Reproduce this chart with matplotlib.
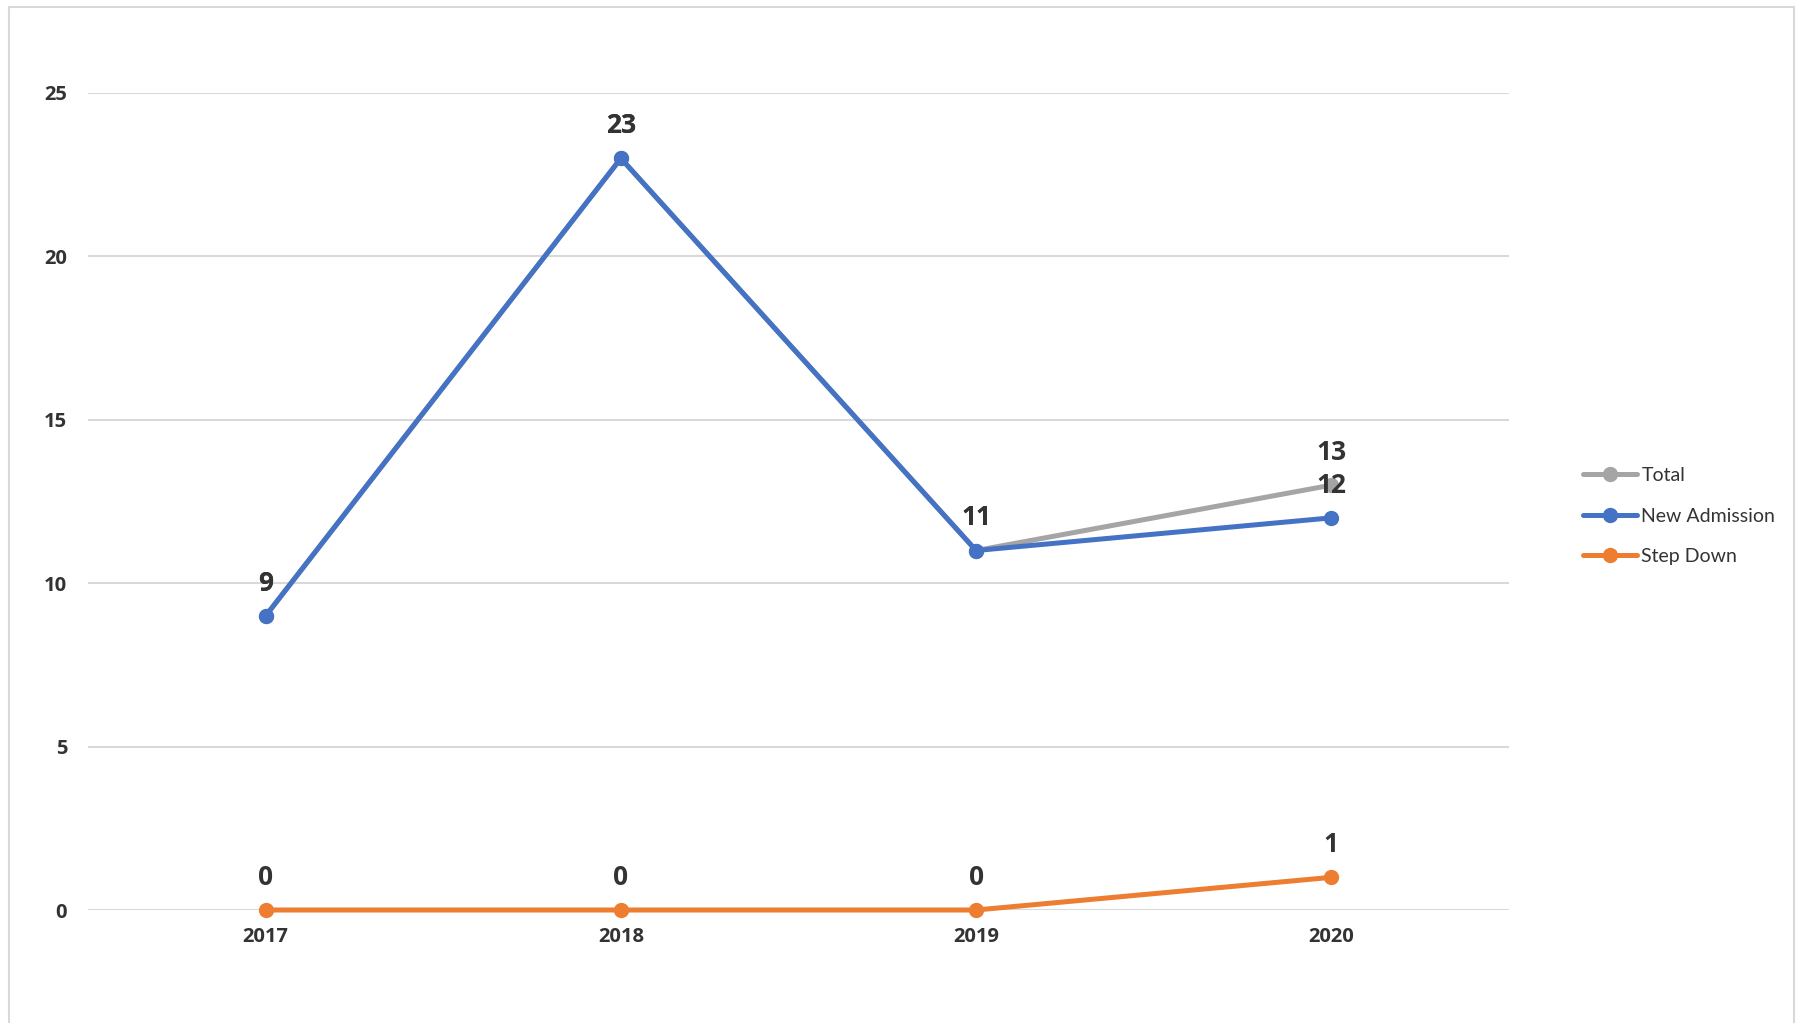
import matplotlib
matplotlib.use("Agg")
import matplotlib.pyplot as plt
from matplotlib.patches import Rectangle

plt.rcParams['font.family'] = ['Lato', 'DejaVu Sans']

years = ["2017", "2018", "2019", "2020"]
total = [9, 23, 11, 13]
new_admission = [9, 23, 11, 12]
step_down = [0, 0, 0, 1]
y_ticks = [0, 5, 10, 15, 20, 25]

series = [
    ("Total", total, "#A5A5A5"),
    ("New Admission", new_admission, "#4472C4"),
    ("Step Down", step_down, "#ED7D31"),
]

BOLD_FONT = ['Open Sans', 'DejaVu Sans']

W, H = 1798, 1023
fig = plt.figure(figsize=(W / 100, H / 100), dpi=100)
fig.patch.set_facecolor("white")
fig.add_artist(Rectangle((9 / W, -0.05), (1794 - 9) / W, 1.05 - 7 / H,
                         transform=fig.transFigure, fill=False,
                         edgecolor="#d9d9d9", linewidth=1.5))

ax = fig.add_axes([88 / W, 1 - 910 / H, (1509 - 88) / W, (910 - 93) / H])
x = list(range(len(years)))

for name, vals, color in series:
    ax.plot(x, vals, color=color, linewidth=3.6, marker="o", markersize=10,
            label=name, solid_capstyle="round", zorder=3, clip_on=False)

for name, vals, color in series:
    for xi, v in zip(x, vals):
        ax.annotate(str(v), (xi, v), xytext=(0, 23.5), textcoords="offset points",
                    ha="center", va="center", fontsize=19, fontweight="bold",
                    color="#333333", zorder=5, family=BOLD_FONT)

ax.set_xlim(-0.5, 3.5)
ax.set_ylim(0, 25)
ax.set_yticks(y_ticks)
ax.set_xticks(x)
ax.set_xticklabels(years)
ax.grid(axis="y", color="#d9d9d9", linewidth=1.5, zorder=0)
ax.set_axisbelow(True)
for s in ax.spines.values():
    s.set_visible(False)
ax.tick_params(axis="both", length=0, labelsize=14.5, labelcolor="#333333")
ax.tick_params(axis="y", pad=15)
ax.tick_params(axis="x", pad=12)
for lbl in ax.get_xticklabels() + ax.get_yticklabels():
    lbl.set_fontweight("bold")
    lbl.set_family(BOLD_FONT)

leg = ax.legend(loc="center left", bbox_to_anchor=(1583 / W, 1 - 516 / H),
                bbox_transform=fig.transFigure, frameon=False, fontsize=14,
                handlelength=2.8, handletextpad=0.2, labelspacing=1.2,
                borderpad=0, borderaxespad=0)
for t in leg.get_texts():
    t.set_color("#333333")

fig.savefig("out.png", dpi=100, facecolor="white")
